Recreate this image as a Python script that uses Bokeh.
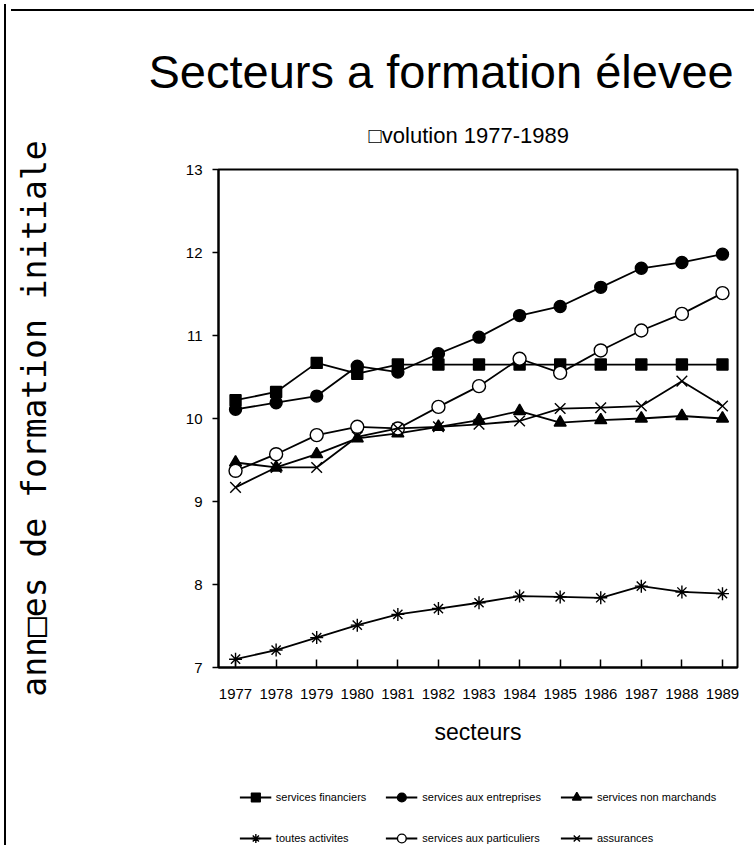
from bokeh.plotting import figure
from bokeh.layouts import column
from bokeh.models import Legend, LegendItem, FixedTicker, Range1d, Title, Div
from bokeh.embed import file_html
from bokeh.resources import INLINE

# ---------------- data ----------------
years = [1977, 1978, 1979, 1980, 1981, 1982, 1983, 1984, 1985, 1986, 1987, 1988, 1989]
y_ticks = [7, 8, 9, 10, 11, 12, 13]

services_financiers = [10.22, 10.32, 10.67, 10.54, 10.65, 10.65, 10.65, 10.65, 10.65, 10.65, 10.65, 10.65, 10.65]
services_entreprises = [10.11, 10.19, 10.27, 10.63, 10.56, 10.78, 10.98, 11.24, 11.35, 11.58, 11.81, 11.88, 11.98]
services_non_marchands = [9.47, 9.41, 9.57, 9.76, 9.82, 9.90, 9.98, 10.09, 9.95, 9.98, 10.00, 10.03, 10.00]
toutes_activites = [7.10, 7.21, 7.36, 7.51, 7.64, 7.71, 7.78, 7.86, 7.85, 7.84, 7.98, 7.91, 7.89]
services_particuliers = [9.37, 9.57, 9.80, 9.90, 9.88, 10.14, 10.39, 10.72, 10.55, 10.82, 11.06, 11.26, 11.51]
assurances = [9.17, 9.41, 9.41, 9.78, 9.88, 9.90, 9.93, 9.97, 10.12, 10.13, 10.15, 10.45, 10.15]

series_names = ["services financiers", "services aux entreprises", "services non marchands",
                "toutes activites", "services aux particuliers", "assurances"]

title_text = "Secteurs a formation élevee"
subtitle_text = "\u25a1volution 1977-1989"
x_label_text = "secteurs"
y_label_text = "ann\u25a1es de formation initiale"

SANS = "Liberation Sans"
MONO = "DejaVu Sans Mono"

# ---------------- main figure ----------------
p = figure(width=745, height=740, title_location=None,
           x_range=Range1d(1976.58, 1989.37), y_range=Range1d(7, 13),
           output_backend="svg", toolbar_location=None,
           min_border_left=212, min_border_right=14, min_border_top=153, min_border_bottom=89)
p.background_fill_color = "white"
p.border_fill_color = "white"
p.xgrid.visible = False
p.ygrid.visible = False
p.outline_line_color = "black"
p.outline_line_width = 2
p.outline_line_alpha = 1

p.xaxis.ticker = FixedTicker(ticks=years)
p.yaxis.ticker = FixedTicker(ticks=y_ticks)
for ax in (p.xaxis[0], p.yaxis[0]):
    ax.axis_line_width = 2
    ax.axis_line_color = "black"
    ax.major_tick_line_color = "black"
    ax.major_tick_line_width = 1.5
    ax.minor_tick_line_color = None
    ax.major_label_text_font = SANS
    ax.major_label_text_color = "black"
    ax.major_label_text_font_size = "15px"
p.xaxis.major_tick_in = 8
p.xaxis.major_tick_out = 0
p.xaxis.major_label_standoff = 21
p.yaxis.major_tick_in = 0
p.yaxis.major_tick_out = 6
p.yaxis.major_label_standoff = 10

p.xaxis.axis_label = x_label_text
p.xaxis.axis_label_text_font = SANS
p.xaxis.axis_label_text_font_style = "normal"
p.xaxis.axis_label_text_font_size = "23px"
p.xaxis.axis_label_text_color = "black"
p.xaxis.axis_label_standoff = 17

p.yaxis.axis_label = y_label_text
p.yaxis.axis_label_text_font = MONO
p.yaxis.axis_label_text_font_style = "normal"
p.yaxis.axis_label_text_font_size = "33px"
p.yaxis.axis_label_text_color = "black"
p.yaxis.axis_label_standoff = 129

styles = {
    "services financiers": dict(marker="square", size=11, fill="black"),
    "services aux entreprises": dict(marker="circle", size=12, fill="black"),
    "services non marchands": dict(marker="triangle", size=12, fill="black"),
    "toutes activites": dict(marker="asterisk", size=13, fill=None),
    "services aux particuliers": dict(marker="circle", size=13, fill="white"),
    "assurances": dict(marker="x", size=15, fill=None),
}
values = {
    "services financiers": services_financiers,
    "services aux entreprises": services_entreprises,
    "services non marchands": services_non_marchands,
    "toutes activites": toutes_activites,
    "services aux particuliers": services_particuliers,
    "assurances": assurances,
}


def draw(fig, name, xs, ys):
    st = styles[name]
    lr = fig.line(xs, ys, line_color="black", line_width=1.8)
    sr = fig.scatter(xs, ys, marker=st["marker"], size=st["size"],
                     line_color="black", line_width=1.4,
                     fill_color=st["fill"] if st["fill"] else "black",
                     fill_alpha=1 if st["fill"] else 0)
    return [lr, sr]


for name in series_names:
    draw(p, name, years, values[name])

# titles: first added sits nearest the frame
p.add_layout(Title(text=subtitle_text, align="left", offset=150, standoff=44,
                   text_font=SANS, text_font_size="22px", text_font_style="normal",
                   text_color="black"), "above")
p.add_layout(Title(text=title_text, align="left", offset=-70, standoff=2,
                   text_font=SANS, text_font_size="47px", text_font_style="normal",
                   text_color="black"), "above")

# ---------------- legend strip (below the chart) ----------------
# the strip's ranges keep its copies of the series out of view; only the legend shows
pl = figure(width=745, height=89, title_location=None,
            x_range=Range1d(0, 1), y_range=Range1d(0, 1),
            x_axis_type=None, y_axis_type=None,
            output_backend="svg", toolbar_location=None,
            min_border_left=212, min_border_right=14, min_border_top=0, min_border_bottom=0)
pl.outline_line_color = None
pl.xgrid.visible = False
pl.ygrid.visible = False
pl.background_fill_color = "white"
pl.border_fill_color = "white"

items = [LegendItem(label=name, renderers=draw(pl, name, years, values[name]))
         for name in series_names]
legend = Legend(items=items, orientation="horizontal", ncols=3,
                location="top_center",
                glyph_width=32, glyph_height=22, label_height=22, label_standoff=5,
                spacing=19, padding=0, margin=30,
                border_line_alpha=0, background_fill_alpha=0,
                label_text_font=SANS, label_text_font_size="11px",
                label_text_color="black")
pl.add_layout(legend, "center")

# top edge of the page frame
top_rule = Div(width=745, height=2, styles={"background-color": "black"})

layout = column(top_rule, p, pl, spacing=0)
layout.styles = {"margin-left": "4px", "margin-top": "4px",
                 "border-left": "2px solid black", "border-right": "2px solid black"}

open("out.html", "w").write(file_html(layout, INLINE))
